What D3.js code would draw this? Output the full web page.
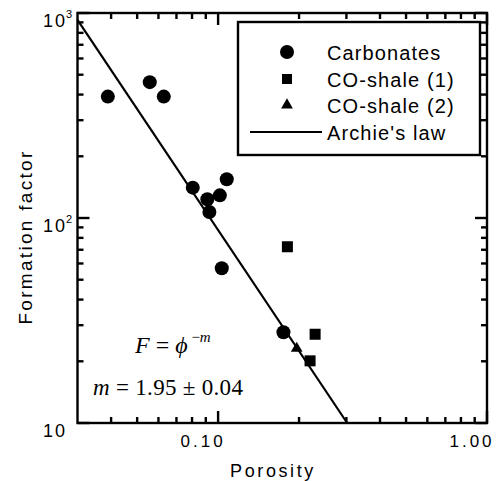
<!DOCTYPE html>
<html>
<head>
<meta charset="utf-8">
<script src="https://cdn.jsdelivr.net/npm/d3@7"></script>
<style>
  html, body { margin: 0; padding: 0; background: #fff; }
  svg { display: block; }
  .sans { font-family: "Liberation Sans", Arial, Helvetica, sans-serif; }
  .serif { font-family: "Liberation Serif", "Times New Roman", serif; }
</style>
</head>
<body>
<script>
// ---- data ----
const carbPhi = [0.0389, 0.0557, 0.0628, 0.0805, 0.0912, 0.0928, 0.1015, 0.1077, 0.1032, 0.175];
const carbF   = [391, 460, 391, 140.6, 123.4, 107, 129, 154.5, 56.9, 27.7];
const shale1Phi = [0.181, 0.2295, 0.2198];
const shale1F   = [72.4, 27.1, 20.1];
const shale2Phi = [0.196];
const shale2F   = [23.1];
const archiePhi = [0.03, 0.302];
const archieF   = [925, 10];
const xMajor = [0.1, 1];
const xMajorLabels = ["0.10", "1.00"];
const xMinor = [0.04, 0.05, 0.06, 0.07, 0.08, 0.09, 0.2, 0.3, 0.4, 0.5, 0.6, 0.7, 0.8, 0.9];
const yMajor = [10, 100, 1000];
const yMajorExp = ["", "2", "3"];
const yMinor = [20, 30, 40, 50, 60, 70, 80, 90, 200, 300, 400, 500, 600, 700, 800, 900];
const legendLabels = ["Carbonates", "CO-shale (1)", "CO-shale (2)", "Archie's law"];
const xTitle = "Porosity";
const yTitle = "Formation factor";

// ---- chart ----
const W = 501, H = 481;
const svg = d3.select("body").append("svg").attr("width", W).attr("height", H);

const x = d3.scaleLog().domain([0.03, 1]).range([77.5, 487]);
const y = d3.scaleLog().domain([10, 1000]).range([423, 13]);
const [x0, x1] = x.range();
const [y0, y1] = y.range();

const majLen = 12, minLen = 6, sw = 2.4;

// ticks (inward on all sides)
const tg = svg.append("g").attr("stroke", "#000").attr("stroke-width", sw);
function vt(v, len) {
  tg.append("line").attr("x1", x(v)).attr("x2", x(v)).attr("y1", y0).attr("y2", y0 - len);
  tg.append("line").attr("x1", x(v)).attr("x2", x(v)).attr("y1", y1).attr("y2", y1 + len);
}
function ht(v, len) {
  tg.append("line").attr("y1", y(v)).attr("y2", y(v)).attr("x1", x0).attr("x2", x0 + len);
  tg.append("line").attr("y1", y(v)).attr("y2", y(v)).attr("x1", x1).attr("x2", x1 - len);
}
xMinor.forEach(v => vt(v, minLen));
xMajor.forEach(v => vt(v, majLen));
yMinor.forEach(v => ht(v, minLen));
yMajor.forEach(v => ht(v, majLen));

// Archie's law line
const line = d3.line().x(d => x(d[0])).y(d => y(d[1]));
svg.append("path")
  .datum(archiePhi.map((p, i) => [p, archieF[i]]))
  .attr("d", line).attr("fill", "none").attr("stroke", "#000").attr("stroke-width", 2.2);

// markers
svg.append("g").selectAll("circle")
  .data(carbPhi.map((p, i) => [p, carbF[i]]))
  .join("circle").attr("cx", d => x(d[0])).attr("cy", d => y(d[1])).attr("r", 7).attr("fill", "#000");
const sq = 11;
svg.append("g").selectAll("rect")
  .data(shale1Phi.map((p, i) => [p, shale1F[i]]))
  .join("rect").attr("x", d => x(d[0]) - sq / 2).attr("y", d => y(d[1]) - sq / 2)
  .attr("width", sq).attr("height", sq).attr("fill", "#000");
const tri = d3.symbol().type(d3.symbolTriangle).size(60);
svg.append("g").selectAll("path")
  .data(shale2Phi.map((p, i) => [p, shale2F[i]]))
  .join("path").attr("d", tri).attr("transform", d => `translate(${x(d[0])},${y(d[1])})`).attr("fill", "#000");

// frame
svg.append("rect").attr("x", x0).attr("y", y1).attr("width", x1 - x0).attr("height", y0 - y1)
  .attr("fill", "none").attr("stroke", "#000").attr("stroke-width", sw);

// x tick labels
svg.append("g").attr("class", "sans").selectAll("text")
  .data(xMajor).join("text")
  .attr("x", d => x(d) - 15).attr("y", 447)
  .attr("text-anchor", "middle").attr("font-size", 17).attr("letter-spacing", 3)
  .text((d, i) => xMajorLabels[i]);

// y tick labels
const yl = svg.append("g").attr("class", "sans");
yMajor.forEach((v, i) => {
  const t = yl.append("text").attr("x", 67).attr("y", y(v) + 14)
    .attr("text-anchor", "end").attr("font-size", 18).attr("letter-spacing", 2);
  t.text("10");
  if (yMajorExp[i]) {
    yl.append("text").attr("x", 66).attr("y", y(v) + 5).attr("font-size", 11).text(yMajorExp[i]);
  }
});

// axis titles
svg.append("text").attr("class", "sans").attr("x", 273).attr("y", 477)
  .attr("text-anchor", "middle").attr("font-size", 18).attr("letter-spacing", 2.6).text(xTitle);
svg.append("text").attr("class", "sans")
  .attr("transform", "translate(32,237) rotate(-90)")
  .attr("text-anchor", "middle").attr("font-size", 19).attr("letter-spacing", 2.3).text(yTitle);

// legend
const lg = svg.append("g");
lg.append("rect").attr("x", 238).attr("y", 22).attr("width", 242).attr("height", 133)
  .attr("fill", "#fff").attr("stroke", "#000").attr("stroke-width", sw);
const lx = 287, lys = [52, 79, 105, 132];
lg.append("circle").attr("cx", lx).attr("cy", lys[0]).attr("r", 7).attr("fill", "#000");
lg.append("rect").attr("x", lx - 5).attr("y", lys[1] - 5).attr("width", 10).attr("height", 10).attr("fill", "#000");
lg.append("path").attr("d", tri).attr("transform", `translate(${lx},${lys[2]})`).attr("fill", "#000");
lg.append("line").attr("x1", 250).attr("x2", 322).attr("y1", lys[3]).attr("y2", lys[3])
  .attr("stroke", "#000").attr("stroke-width", 2.2);
lg.selectAll("text.lab").data(legendLabels).join("text").attr("class", "sans lab")
  .attr("x", 327).attr("y", (d, i) => lys[i] + 7.5)
  .attr("font-size", 20).attr("letter-spacing", 1.1).text(d => d);

// equation
const e1 = svg.append("text").attr("class", "serif").attr("x", 135).attr("y", 353).attr("font-size", 24);
e1.append("tspan").attr("font-style", "italic").text("F");
e1.append("tspan").text(" = ");
e1.append("tspan").attr("font-style", "italic").text("\u03D5");
e1.append("tspan").attr("dy", -11).attr("font-size", 15).text(" \u2212");
e1.append("tspan").attr("font-size", 15).attr("font-style", "italic").text("m");
const e2 = svg.append("text").attr("class", "serif").attr("x", 93).attr("y", 395).attr("font-size", 23)
  .attr("letter-spacing", 0.3);
e2.append("tspan").attr("font-style", "italic").text("m");
e2.append("tspan").text(" = 1.95 \u00B1 0.04");
</script>
</body>
</html>
